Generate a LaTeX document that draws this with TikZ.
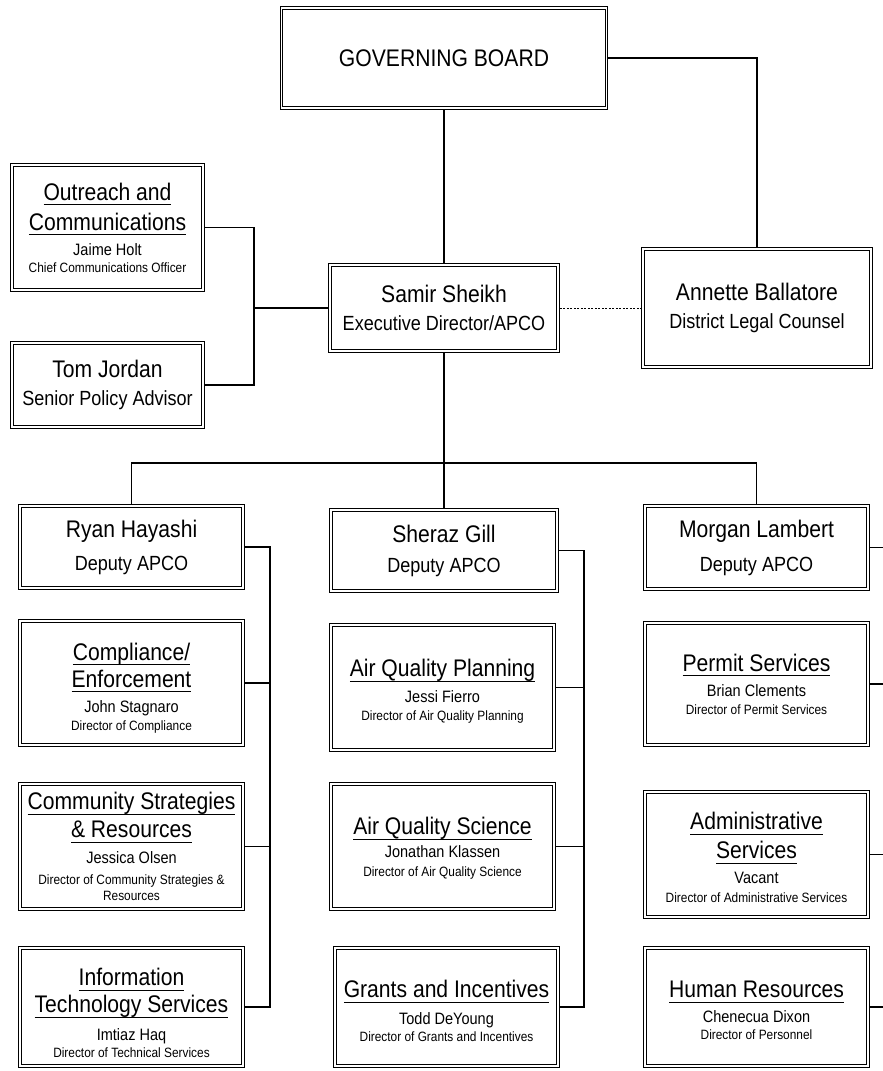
\documentclass[tikz,border=0pt]{standalone}
\usepackage{fontspec}
\setmainfont[FakeStretch=0.88]{Liberation Sans}
\newcommand{\orgul}[1]{\setbox0\hbox{#1}\rlap{\rule[-5pt]{\wd0}{1.1pt}}\box0}
\newcommand{\orgpush}[1]{\rule{0pt}{#1}}
\newcommand{\orgsub}{\fontsize{20.5}{24}\selectfont}
\newcommand{\orgperson}{\fontsize{16.5}{19}\selectfont}
\newcommand{\orgrole}{\fontsize{13.5}{16}\selectfont}

\begin{document}
\begin{tikzpicture}[x=1pt,y=-1pt,
  box/.style={draw, double, double distance=1.8pt, line width=1pt, outer sep=1.9pt,
    inner sep=0pt, align=center, font=\fontsize{24}{27}\selectfont},
  head/.style={box, font=\fontsize{24}{28}\selectfont},
  link/.style={line width=1.2pt}]
\useasboundingbox (0,0) rectangle (883,1071);

\node[head, minimum width=325pt, minimum height=100pt] (board) at (444,58) {GOVERNING BOARD};
\node[head, minimum width=228pt, minimum height=86pt] (sheikh) at (444,308) {Samir Sheikh\\{\orgsub Executive Director/APCO}};
\node[head, minimum width=228pt, minimum height=118pt] (ballatore) at (757,308) {Annette Ballatore\\{\orgsub District Legal Counsel}};
\node[box, minimum width=191pt, minimum height=125pt] (outreach) at (107.5,227.5) {\orgul{Outreach and}\\[3pt]\orgul{Communications}\\[-2pt]{\orgperson Jaime Holt}\\[-10pt]{\orgrole Chief Communications Officer}};
\node[head, minimum width=191pt, minimum height=84pt] (jordan) at (107.5,385) {Tom Jordan\\{\orgsub Senior Policy Advisor}};

\node[head, minimum width=223pt, minimum height=82pt] (hayashi) at (131.5,547) {Ryan Hayashi\\[5pt]{\orgsub Deputy APCO}};
\node[head, minimum width=226pt, minimum height=81pt] (gill) at (444,550.5) {Sheraz Gill\\[2pt]{\orgsub Deputy APCO}};
\node[head, minimum width=223pt, minimum height=83pt] (lambert) at (756.5,547.5) {Morgan Lambert\\[6pt]{\orgsub Deputy APCO}};

\node[box, minimum width=223pt, minimum height=124pt] (compliance) at (131.5,683) {\orgpush{27.5pt}\orgul{Compliance/}\\\orgul{Enforcement}\\[-2pt]{\orgperson John Stagnaro}\\[-9pt]{\orgrole Director of Compliance}};
\node[box, minimum width=223pt, minimum height=125pt] (community) at (131.5,846.5) {\orgul{Community Strategies}\\[1pt]\orgul{\& Resources}\\[-1pt]{\orgperson Jessica Olsen}\\[-6pt]{\orgrole Director of Community Strategies \&}\\[-11.5pt]{\orgrole Resources}};
\node[box, minimum width=223pt, minimum height=118pt] (its) at (131.5,1007) {\orgpush{29.5pt}\orgul{Information}\\\orgul{Technology Services}\\[1pt]{\orgperson Imtiaz Haq}\\[-10pt]{\orgrole Director of Technical Services}};

\node[box, minimum width=223pt, minimum height=125pt] (planning) at (442.5,687.5) {\orgpush{25.5pt}\orgul{Air Quality Planning}\\[-1pt]{\orgperson Jessi Fierro}\\[-9pt]{\orgrole Director of Air Quality Planning}};
\node[box, minimum width=223pt, minimum height=125pt] (science) at (442.5,846.5) {\orgpush{21.5pt}\orgul{Air Quality Science}\\[-4pt]{\orgperson Jonathan Klassen}\\[-8pt]{\orgrole Director of Air Quality Science}};
\node[box, minimum width=223pt, minimum height=118pt] (grants) at (446.5,1007) {\orgpush{25.5pt}\orgul{Grants and Incentives}\\[0pt]{\orgperson Todd DeYoung}\\[-10pt]{\orgrole Director of Grants and Incentives}};

\node[box, minimum width=223pt, minimum height=122pt] (permit) at (756.5,684) {\orgul{Permit Services}\\[-2pt]{\orgperson Brian Clements}\\[-9pt]{\orgrole Director of Permit Services}};
\node[box, minimum width=223pt, minimum height=125pt] (admin) at (756.5,854.5) {\orgpush{23.5pt}\orgul{Administrative}\\[2pt]\orgul{Services}\\[-2pt]{\orgperson Vacant}\\[-8pt]{\orgrole Director of Administrative Services}};
\node[box, minimum width=223pt, minimum height=118pt] (hr) at (756.5,1007) {\orgpush{23.5pt}\orgul{Human Resources}\\[-2pt]{\orgperson Chenecua Dixon}\\[-10pt]{\orgrole Director of Personnel}};

\coordinate (staffbus) at (254,308);
\coordinate (deputybus) at (444,463);
\coordinate (hayashibus) at (270,0);
\coordinate (gillbus) at (584,0);
\coordinate (lambertbus) at (883,0);

\draw[link] (board.south) -- (sheikh.north);
\draw[link] (board.east) -| (ballatore.north);
\draw[link, line width=1pt, dash pattern=on 2pt off 1.5pt] (sheikh.east) -- (ballatore.west);
\draw[link] (outreach.east) -| (staffbus) |- (jordan.east);
\draw[link] (staffbus) -- (sheikh.west);
\draw[link] (sheikh.south) -- (deputybus);
\draw[link] (hayashi.north) |- (deputybus) -| (lambert.north);
\draw[link] (deputybus) -- (gill.north);

\draw[link] (hayashi.east) -- (hayashi.east -| hayashibus) |- (its.east);
\foreach \n in {compliance, community}
  \draw[link] (\n.east) -- (\n.east -| hayashibus);
\draw[link] (gill.east) -- (gill.east -| gillbus) |- (grants.east);
\foreach \n in {planning, science}
  \draw[link] (\n.east) -- (\n.east -| gillbus);
\foreach \n in {lambert, permit, admin, hr}
  \draw[link] (\n.east) -- (\n.east -| lambertbus);
\end{tikzpicture}
\end{document}
